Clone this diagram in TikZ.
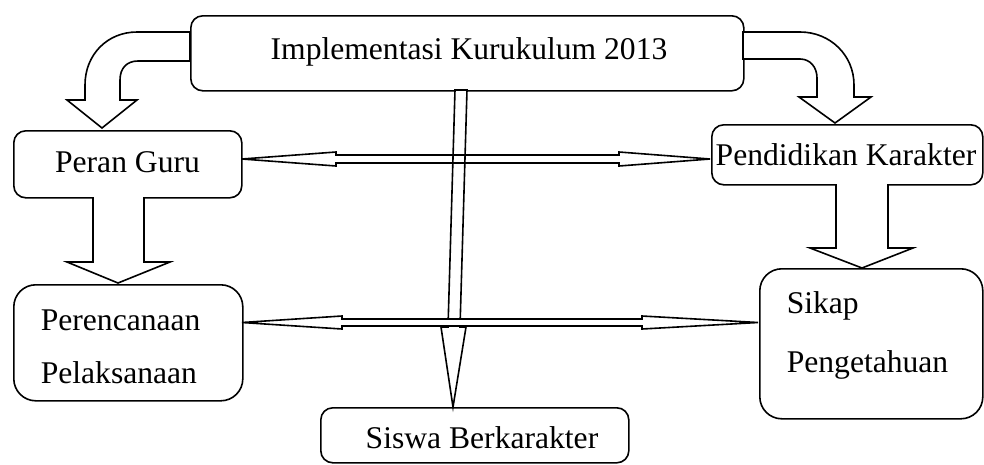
\documentclass[tikz,border=0pt]{standalone}
\usepackage{fontspec}
\setmainfont{Liberation Serif}
\begin{document}
\begin{tikzpicture}[x=1pt,y=-1pt,line width=1.6pt,line join=miter,
  box/.style={draw,anchor=north west,inner sep=0pt,rounded corners=12pt},
  bigbox/.style={box,rounded corners=22pt},
  txt/.style={inner sep=0pt,font=\fontsize{31.6}{38}\selectfont},
  blockarrow/.style={draw,fill=white},
  openarrow/.style={draw}]
\useasboundingbox (0,0) rectangle (984,464);
% boxes
\node[box,minimum width=553pt,minimum height=75pt] (top) at (190,15) {};
\node[box,minimum width=228pt,minimum height=67pt] (peran) at (13,130) {};
\node[box,minimum width=271pt,minimum height=60pt] (pend) at (711,124) {};
\node[bigbox,minimum width=229pt,minimum height=116pt] (peren) at (13,284) {};
\node[bigbox,minimum width=223pt,minimum height=150pt] (sikap) at (759,268) {};
\node[box,minimum width=308pt,minimum height=55pt] (siswa) at (320,407) {};
% texts
\node[txt,anchor=base] (ttop) at (469,59) {Implementasi Kurukulum 2013};
\node[txt,anchor=base] (tperan) at (127.5,172) {Peran Guru};
\node[txt,anchor=base] (tpend) at (846,165) {Pendidikan Karakter};
\node[txt,anchor=base west] (tperen) at (40,330) {Perencanaan};
\node[txt,anchor=base west] (tpelak) at (40,383) {Pelaksanaan};
\node[txt,anchor=base west] (tsikap) at (786,313) {Sikap};
\node[txt,anchor=base west] (tpeng) at (786,372) {Pengetahuan};
\node[txt,anchor=base] (tsiswa) at (482,448) {Siswa Berkarakter};
% curved arrows from the top box
\draw[blockarrow] (190,32) -- (137,32) .. controls (107,32) and (85,55) .. (85,85)
  -- (85,100) -- (67,100) -- (102,128) -- (137,100) -- (120,100) -- (120,80)
  .. controls (120,68) and (127,61) .. (138,61) -- (190,61) -- cycle;
\draw[blockarrow] (743,32) -- (800,32) .. controls (830,32) and (854,55) .. (854,85)
  -- (854,97) -- (871,97) -- (835,123) -- (799,97) -- (817,97) -- (817,78)
  .. controls (817,67) and (810,59) .. (800,59) -- (743,59) -- cycle;
% straight down arrows
\draw[blockarrow] (93,197) -- (93,262) -- (67,262) -- (118,283) -- (170,262) -- (144,262) -- (144,197);
\draw[blockarrow] (836,184) -- (836,248) -- (810,248) -- (862,268) -- (913,248) -- (888,248) -- (888,184);
% central arrow to Siswa Berkarakter
\draw[blockarrow] (455,90) -- (467,90) -- (460,327) -- (466,327) -- (453,407)
  -- (441,327) -- (448,327) -- cycle;
% upper double arrow
\draw[openarrow] (242,159) -- (336,152) -- (336,155) -- (619,155) -- (619,152) -- (710,159)
  -- (619,166) -- (619,163) -- (336,163) -- (336,166) -- cycle;
% lower double arrow
\draw[blockarrow] (242,322.5) -- (342,316) -- (342,319) -- (642,319) -- (642,316) -- (758,322.5)
  -- (642,329) -- (642,326) -- (342,326) -- (342,329) -- cycle;
\end{tikzpicture}
\end{document}
